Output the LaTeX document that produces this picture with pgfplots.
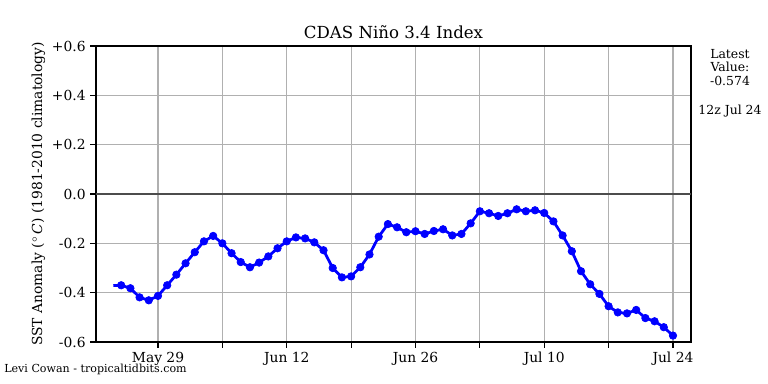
\documentclass[border=0pt]{standalone}
\usepackage{fontspec}
\setmainfont{DejaVu Serif}
\usepackage{pgfplots}
\pgfplotsset{compat=1.18}
\definecolor{gridgray}{RGB}{176,176,176}
\definecolor{pureblue}{RGB}{0,0,255}
\begin{document}
\begin{tikzpicture}
\path[use as bounding box] (0,0) rectangle (552.96bp,276.48bp);
\begin{axis}[
  at={(69.12bp,30.24bp)}, anchor=south west,
  width=428.4bp, height=213.12bp, scale only axis,
  xmin=-6.74, xmax=57.96, ymin=-0.6, ymax=0.6,
  /pgf/number format/assume math mode=true,
  xtick={0,7,14,21,28,35,42,49,56},
  xticklabels={May 29,,Jun 12,,Jun 26,,Jul 10,,Jul 24},
  ytick={-0.6,-0.4,-0.2,0,0.2,0.4,0.6},
  yticklabels={-0.6,-0.4,-0.2,0.0,+0.2,+0.4,+0.6},
  tick pos=left, tick align=outside,
  major tick length=4pt,
  every tick/.style={black, line width=0.8pt},
  tick label style={font=\fontsize{10}{12}\selectfont},
  grid=major,
  major grid style={color=gridgray, line width=0.8pt},
  axis line style={line width=0.8pt},
  title={CDAS Niño 3.4 Index},
  title style={font=\fontsize{12}{14}\selectfont, yshift=-4bp},
  ylabel={SST Anomaly (${}^\circ$\,\textit{C}) (1981-2010 climatology)},
  ylabel style={font=\fontsize{10}{12}\selectfont, yshift=-2bp},
  clip=false,
]
\addplot[color=black!70, line width=1.1pt] coordinates {(-6.74,0) (57.96,0)};
\addplot[color=pureblue, line width=2pt, no markers] coordinates {(-4.86,-0.371) (-4,-0.370)};
\addplot[color=pureblue, line width=2pt, mark=*, mark size=2.7pt, mark options={fill=pureblue, draw=pureblue, line width=0.5pt}] coordinates {
(-4,-0.370) (-3,-0.382) (-2,-0.419) (-1,-0.431) (0,-0.413)
(1,-0.370) (2,-0.327) (3,-0.281) (4,-0.236) (5,-0.192)
(6,-0.170) (7,-0.200) (8,-0.240) (9,-0.276) (10,-0.297)
(11,-0.278) (12,-0.253) (13,-0.220) (14,-0.192) (15,-0.176)
(16,-0.180) (17,-0.196) (18,-0.228) (19,-0.300) (20,-0.338)
(21,-0.334) (22,-0.297) (23,-0.245) (24,-0.173) (25,-0.122)
(26,-0.135) (27,-0.155) (28,-0.151) (29,-0.162) (30,-0.150)
(31,-0.143) (32,-0.168) (33,-0.162) (34,-0.119) (35,-0.070)
(36,-0.078) (37,-0.089) (38,-0.078) (39,-0.062) (40,-0.070)
(41,-0.066) (42,-0.077) (43,-0.111) (44,-0.168) (45,-0.232)
(46,-0.313) (47,-0.366) (48,-0.405) (49,-0.455) (50,-0.480)
(51,-0.484) (52,-0.470) (53,-0.503) (54,-0.516) (55,-0.540)
(56,-0.574)
};
\end{axis}
\node[font=\fontsize{9}{10.8}\selectfont, align=center, anchor=north] at (525.6bp,244.5bp) {Latest\\[-1pt]Value:\\[-1pt]-0.574};
\node[font=\fontsize{9}{10.8}\selectfont, anchor=center] at (525.6bp,196.6bp) {12z Jul 24};
\node[font=\fontsize{8}{9.6}\selectfont, anchor=west, inner sep=0pt] at (2.9bp,10.3bp) {Levi Cowan - tropicaltidbits.com};
\end{tikzpicture}
\end{document}
